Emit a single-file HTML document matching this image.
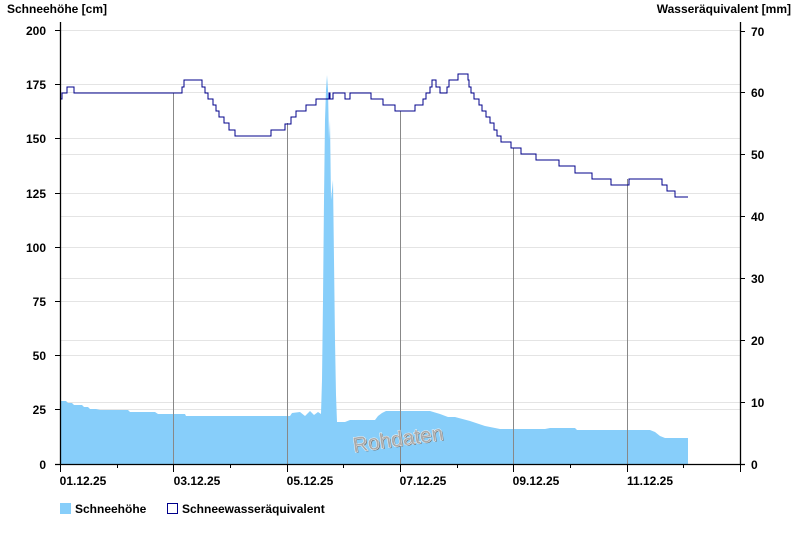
<!DOCTYPE html>
<html><head><meta charset="utf-8"><style>
body{margin:0;background:#fff}
svg{display:block;font-family:"Liberation Sans",Arial,sans-serif;font-weight:bold}
</style></head><body>
<svg width="800" height="550" viewBox="0 0 800 550">
<rect width="800" height="550" fill="#fff"/>
<g stroke="#e4e4e4" stroke-width="1">
<line x1="60" x2="740" y1="30.5" y2="30.5"/><line x1="60" x2="740" y1="84.5" y2="84.5"/><line x1="60" x2="740" y1="138.5" y2="138.5"/><line x1="60" x2="740" y1="193.5" y2="193.5"/><line x1="60" x2="740" y1="247.5" y2="247.5"/><line x1="60" x2="740" y1="301.5" y2="301.5"/><line x1="60" x2="740" y1="355.5" y2="355.5"/><line x1="60" x2="740" y1="409.5" y2="409.5"/>
<line x1="60" x2="740" y1="92.5" y2="92.5"/><line x1="60" x2="740" y1="154.5" y2="154.5"/><line x1="60" x2="740" y1="216.5" y2="216.5"/><line x1="60" x2="740" y1="278.5" y2="278.5"/><line x1="60" x2="740" y1="340.5" y2="340.5"/><line x1="60" x2="740" y1="402.5" y2="402.5"/>
</g>
<polygon fill="#87cefa" points="60,464 60,401 66,401 68,403 72,403 74,405 82,405 84,407 88,407 90,409 96,409 100,410 128,410 130,412 155,412 158,414 185,414 186,416 290,416 292,413 300,412 305,416 310,411 314,415 318,412 321,414 322,380 323,300 324,200 325,120 326,90 327,75 328,90 329,140 330,120 331,200 332,190 333,180 334,260 335,340 336,395 337,422 345,422 350,420 375,420 378,416 382,413 386,411 430,411 440,414 448,417 455,417 470,421 485,426 495,428 500,429 545,429 550,428 575,428 577,430 650,430 655,432 660,436 665,438 688,438 688,464"/>
<g stroke="#888" stroke-width="1">
<line x1="173.5" x2="173.5" y1="93" y2="464"/><line x1="287.5" x2="287.5" y1="123" y2="464"/><line x1="400.5" x2="400.5" y1="111" y2="464"/><line x1="513.5" x2="513.5" y1="148" y2="464"/><line x1="627.5" x2="627.5" y1="179" y2="464"/>
</g>
<polyline fill="none" stroke="#00008b" stroke-width="1" points="60,99 62,99 62,93 67,93 67,87 74,87 74,93 182,93 182,87 184,87 184,80 202,80 202,87 205,87 205,93 208,93 208,99 213,99 213,105 216,105 216,111 219,111 219,117 224,117 224,123 229,123 229,130 235,130 235,136 251,136 251,136 271,136 271,130 285,130 285,124 291,124 291,117 296,117 296,111 306,111 306,105 316,105 316,99 329,99 329,93 330,93 330,99 333,99 333,93 345,93 345,99 350,99 350,93 371,93 371,99 383,99 383,105 395,105 395,111 415,111 415,105 423,105 423,99 426,99 426,93 430,93 430,87 432,87 432,80 436,80 436,87 440,87 440,93 447,93 447,87 449,87 449,80 458,80 458,74 468,74 468,80 469,80 469,87 471,87 471,93 474,93 474,99 479,99 479,105 482,105 482,111 486,111 486,117 490,117 490,123 494,123 494,130 497,130 497,136 501,136 501,142 511,142 511,148 521,148 521,154 536,154 536,160 559,160 559,166 575,166 575,173 592,173 592,179 611,179 611,185 629,185 629,179 662,179 662,185 667,185 667,191 675,191 675,197 688,197"/>
<text x="399" y="447" font-size="21" font-weight="normal" fill="#777" transform="rotate(-8 398 440)" text-anchor="middle">Rohdaten</text>
<text x="398" y="446" font-size="21" font-weight="normal" fill="#aaa" stroke="#fff" stroke-width="0.8" transform="rotate(-8 398 440)" text-anchor="middle" style="paint-order:stroke">Rohdaten</text>
<g stroke="#000" stroke-width="1.3">
<line x1="60.5" x2="60.5" y1="22" y2="465"/><line x1="740.5" x2="740.5" y1="22" y2="465"/><line x1="55" x2="745" y1="464.5" y2="464.5"/>
</g>
<g stroke="#000" stroke-width="1">
<line x1="55" x2="60" y1="30.5" y2="30.5"/><line x1="55" x2="60" y1="84.5" y2="84.5"/><line x1="55" x2="60" y1="138.5" y2="138.5"/><line x1="55" x2="60" y1="193.5" y2="193.5"/><line x1="55" x2="60" y1="247.5" y2="247.5"/><line x1="55" x2="60" y1="301.5" y2="301.5"/><line x1="55" x2="60" y1="355.5" y2="355.5"/><line x1="55" x2="60" y1="409.5" y2="409.5"/>
<line x1="740" x2="745" y1="31.5" y2="31.5"/><line x1="740" x2="745" y1="92.5" y2="92.5"/><line x1="740" x2="745" y1="154.5" y2="154.5"/><line x1="740" x2="745" y1="216.5" y2="216.5"/><line x1="740" x2="745" y1="278.5" y2="278.5"/><line x1="740" x2="745" y1="340.5" y2="340.5"/><line x1="740" x2="745" y1="402.5" y2="402.5"/>
<line x1="60.5" x2="60.5" y1="464" y2="472"/><line x1="117.5" x2="117.5" y1="464" y2="468"/><line x1="173.5" x2="173.5" y1="464" y2="472"/><line x1="230.5" x2="230.5" y1="464" y2="468"/><line x1="287.5" x2="287.5" y1="464" y2="472"/><line x1="343.5" x2="343.5" y1="464" y2="468"/><line x1="400.5" x2="400.5" y1="464" y2="472"/><line x1="457.5" x2="457.5" y1="464" y2="468"/><line x1="513.5" x2="513.5" y1="464" y2="472"/><line x1="570.5" x2="570.5" y1="464" y2="468"/><line x1="627.5" x2="627.5" y1="464" y2="472"/><line x1="683.5" x2="683.5" y1="464" y2="468"/><line x1="740.5" x2="740.5" y1="464" y2="472"/>
</g>
<g font-size="12" fill="#000" text-anchor="end">
<text x="46" y="35">200</text><text x="46" y="89">175</text><text x="46" y="143">150</text><text x="46" y="198">125</text><text x="46" y="252">100</text><text x="46" y="306">75</text><text x="46" y="360">50</text><text x="46" y="414">25</text><text x="46" y="469">0</text>
</g>
<g font-size="12" fill="#000">
<text x="751" y="36">70</text><text x="751" y="97">60</text><text x="751" y="159">50</text><text x="751" y="221">40</text><text x="751" y="283">30</text><text x="751" y="345">20</text><text x="751" y="407">10</text><text x="751" y="469">0</text>
</g>
<g font-size="12" fill="#000" text-anchor="middle">
<text x="83" y="485">01.12.25</text><text x="197" y="485">03.12.25</text><text x="310" y="485">05.12.25</text><text x="423" y="485">07.12.25</text><text x="536" y="485">09.12.25</text><text x="650" y="485">11.12.25</text>
</g>
<text x="7" y="13" font-size="12">Schneehöhe [cm]</text>
<text x="791" y="13" font-size="12" text-anchor="end">Wasseräquivalent [mm]</text>
<rect x="60" y="503" width="11" height="11" fill="#87cefa"/>
<text x="75" y="513" font-size="12">Schneehöhe</text>
<rect x="167.5" y="503.5" width="10" height="10" fill="#fff" stroke="#00008b"/>
<text x="182" y="513" font-size="12">Schneewasseräquivalent</text>
</svg>
</body></html>
